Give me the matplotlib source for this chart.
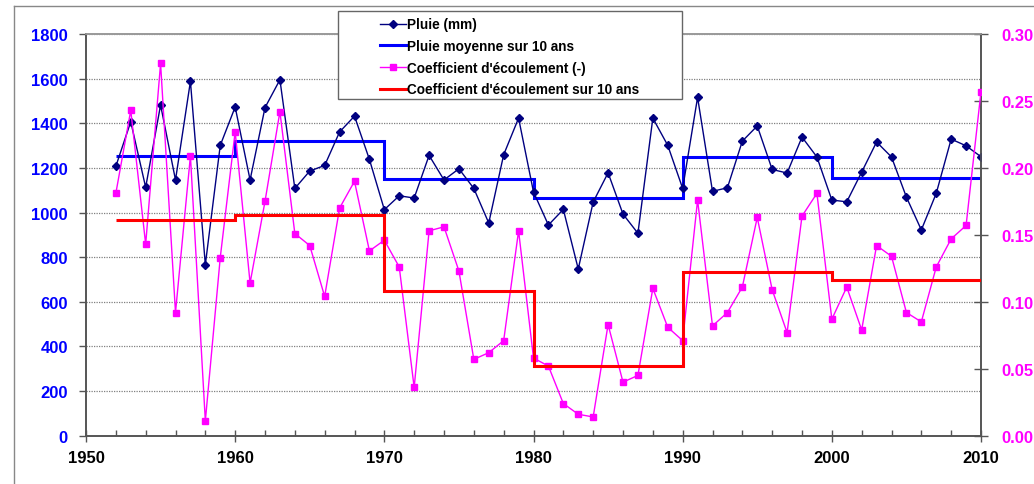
import numpy as np
import matplotlib
matplotlib.use("Agg")
import matplotlib.pyplot as plt
from matplotlib.lines import Line2D
from matplotlib.patches import Rectangle
from matplotlib.ticker import MultipleLocator, FormatStrFormatter

plt.rcParams['font.family'] = ['Liberation Sans', 'DejaVu Sans']

# Annual series
years = list(range(1952, 2011))
pluie = [1207, 1407, 1113, 1482, 1146, 1588, 766, 1301, 1473, 1146,   # 1952-1961
         1470, 1595, 1108, 1186, 1211, 1361, 1432, 1238, 1013, 1075,  # 1962-1971
         1065, 1256, 1146, 1196, 1108, 953, 1259, 1423, 1092, 944,    # 1972-1981
         1014, 747, 1047, 1178, 993, 907, 1423, 1301, 1108, 1516,     # 1982-1991
         1095, 1111, 1320, 1388, 1193, 1177, 1338, 1249, 1056, 1048,  # 1992-2001
         1181, 1316, 1249, 1069, 922, 1086, 1329, 1299, 1250]         # 2002-2010
coef = [0.181, 0.243, 0.143, 0.278, 0.092, 0.209, 0.011, 0.133, 0.227, 0.114,
        0.175, 0.242, 0.151, 0.142, 0.104, 0.170, 0.190, 0.138, 0.146, 0.126,
        0.036, 0.153, 0.156, 0.123, 0.057, 0.062, 0.071, 0.153, 0.058, 0.052,
        0.024, 0.016, 0.014, 0.083, 0.040, 0.045, 0.110, 0.081, 0.071, 0.176,
        0.082, 0.092, 0.111, 0.163, 0.109, 0.077, 0.164, 0.181, 0.087, 0.111,
        0.079, 0.142, 0.134, 0.092, 0.085, 0.126, 0.147, 0.157, 0.257]

# Ten-year means (period edges and values)
period_edges = [1952, 1960, 1970, 1980, 1990, 2000, 2010]
pluie_moy = [1252, 1319, 1149, 1063, 1249, 1155]
coef_moy = [0.161, 0.165, 0.108, 0.052, 0.122, 0.116]

labels = ["Pluie (mm)", "Pluie moyenne sur 10 ans",
          "Coefficient d'écoulement (-)", "Coefficient d'écoulement sur 10 ans"]

W, H = 1034, 485
fig = plt.figure(figsize=(W / 100, H / 100), dpi=100)
fig.patch.set_facecolor('white')

def fx(px):
    return px / W

def fy(py):
    return 1 - py / H

ax = fig.add_axes([fx(86), fy(436.7), fx(981) - fx(86), fy(35) - fy(436.7)])
ax2 = ax.twinx()

NAVY = '#000080'
BLUE = '#0000FF'
MAGENTA = '#FF00FF'
RED = '#FF0000'
AXC = '#555555'

# Rainfall
ax.plot(years, pluie, color=NAVY, lw=1.0, marker='D', ms=4, mfc=NAVY, mec=NAVY, zorder=3)
ax.stairs(pluie_moy, period_edges, baseline=None, color=BLUE, lw=2.2, zorder=2)

# Runoff coefficient
ax2.plot(years, coef, color=MAGENTA, lw=1.0, marker='s', ms=5, mfc=MAGENTA, mec=MAGENTA, zorder=3)
ax2.stairs(coef_moy, period_edges, baseline=None, color=RED, lw=2.2, zorder=4)

ax.set_xlim(1950, 2010)
ax.set_ylim(0, 1800)
ax2.set_ylim(0, 0.30)

ax.xaxis.set_major_locator(MultipleLocator(10))
ax.xaxis.set_minor_locator(MultipleLocator(2))
ax.yaxis.set_major_locator(MultipleLocator(200))
ax2.yaxis.set_major_locator(MultipleLocator(0.05))
ax2.yaxis.set_major_formatter(FormatStrFormatter('%.2f'))

ax.yaxis.grid(True, color='#808080', ls=(0, (1, 1)), lw=0.9)
ax.set_axisbelow(True)

ax.tick_params(axis='x', which='major', direction='inout', length=8, width=1, color=AXC,
               labelsize=12, pad=6, labelcolor='black')
ax.tick_params(axis='x', which='minor', direction='in', length=4, width=1, color=AXC)
ax.tick_params(axis='y', direction='out', length=5, width=1, color=AXC,
               labelsize=12, pad=8, labelcolor=BLUE)
ax2.tick_params(axis='y', direction='inout', length=10, width=1, color=AXC,
                labelsize=12, pad=10, labelcolor=MAGENTA)
for lab in ax.get_xticklabels() + ax.get_yticklabels() + ax2.get_yticklabels():
    lab.set_fontweight('bold')

for a in (ax, ax2):
    for side in ('left', 'bottom', 'right'):
        a.spines[side].set_color(AXC)
        a.spines[side].set_linewidth(1.2)
    a.spines['top'].set_color('#999999')
    a.spines['top'].set_linewidth(1.2)

# Outer frame
fig.add_artist(Line2D([fx(14), fx(14)], [fy(7), 0], color='#888888', lw=1.0))
fig.add_artist(Line2D([fx(14), 1], [fy(7), fy(7)], color='#888888', lw=1.0))

# Legend box
fig.add_artist(Rectangle((fx(338), fy(100)), fx(682) - fx(338), fy(12) - fy(100),
                         transform=fig.transFigure, facecolor='white',
                         edgecolor='#666666', lw=1.0, zorder=5))
handles = [
    Line2D([], [], color=NAVY, lw=1.0, marker='D', ms=4),
    Line2D([], [], color=BLUE, lw=2.2),
    Line2D([], [], color=MAGENTA, lw=1.0, marker='s', ms=5),
    Line2D([], [], color=RED, lw=2.2),
]
leg = fig.legend(handles, labels, loc='upper left', bbox_to_anchor=(fx(380), fy(18.5)),
                 frameon=False, prop={'weight': 'bold', 'size': 9.8},
                 handlelength=1.9, handletextpad=0.12, labelspacing=0.56,
                 borderpad=0, borderaxespad=0)
leg.set_zorder(6)

fig.savefig('out.png', dpi=100, facecolor='white')
